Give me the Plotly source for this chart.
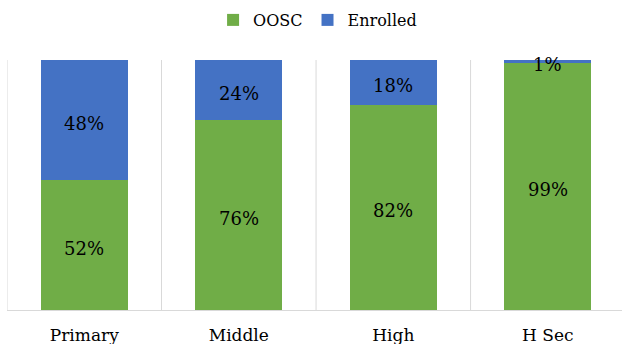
import plotly.graph_objects as go

categories = ["Primary", "Middle", "High", "H Sec"]
oosc = [52, 76, 82, 99]
enrolled = [48, 24, 18, 1]

GREEN = "#70AD47"
BLUE = "#4472C4"
FONT = "DejaVu Serif, serif"

xs = list(range(len(categories)))

fig = go.Figure()
fig.add_trace(go.Bar(x=xs, y=oosc, name="OOSC", marker=dict(color=GREEN, line=dict(width=0))))
fig.add_trace(go.Bar(x=xs, y=enrolled, name="Enrolled", marker=dict(color=BLUE, line=dict(width=0))))

# data labels at the middle of each segment
for i in xs:
    for yv, txt in [(oosc[i] / 2, f"{oosc[i]}%"), (oosc[i] + enrolled[i] / 2, f"{enrolled[i]}%")]:
        fig.add_annotation(x=i, y=yv, xref="x", yref="y", text=txt, showarrow=False,
                           yshift=-3, font=dict(family=FONT, size=18, color="#000000"))

# category separators
for b in [i - 0.5 for i in xs]:
    fig.add_shape(type="line", xref="x", yref="paper", x0=b, x1=b, y0=0, y1=1,
                  line=dict(color="#D9D9D9", width=1), layer="below")

fig.update_layout(
    width=622, height=344,
    margin=dict(l=7, r=0, t=60, b=34, autoexpand=False),
    barmode="stack", bargap=0.437,
    plot_bgcolor="white", paper_bgcolor="white",
    font=dict(family=FONT, color="#000000"),
    showlegend=True,
    legend=dict(orientation="h", x=0.505, xanchor="center", y=1.16, yanchor="middle",
                font=dict(family=FONT, size=16, color="#000000"), traceorder="normal"),
)
fig.update_xaxes(range=[-0.5, 3.48], tickvals=xs, ticktext=categories, automargin=False,
                 showgrid=False, zeroline=False, showline=True, linecolor="#D9D9D9",
                 linewidth=1, ticks="", ticklabelstandoff=10,
                 tickfont=dict(family=FONT, size=17, color="#000000"))
fig.update_yaxes(range=[0, 100], showgrid=False, zeroline=False, showticklabels=False,
                 showline=False, automargin=False)

fig.write_html("out.html")
